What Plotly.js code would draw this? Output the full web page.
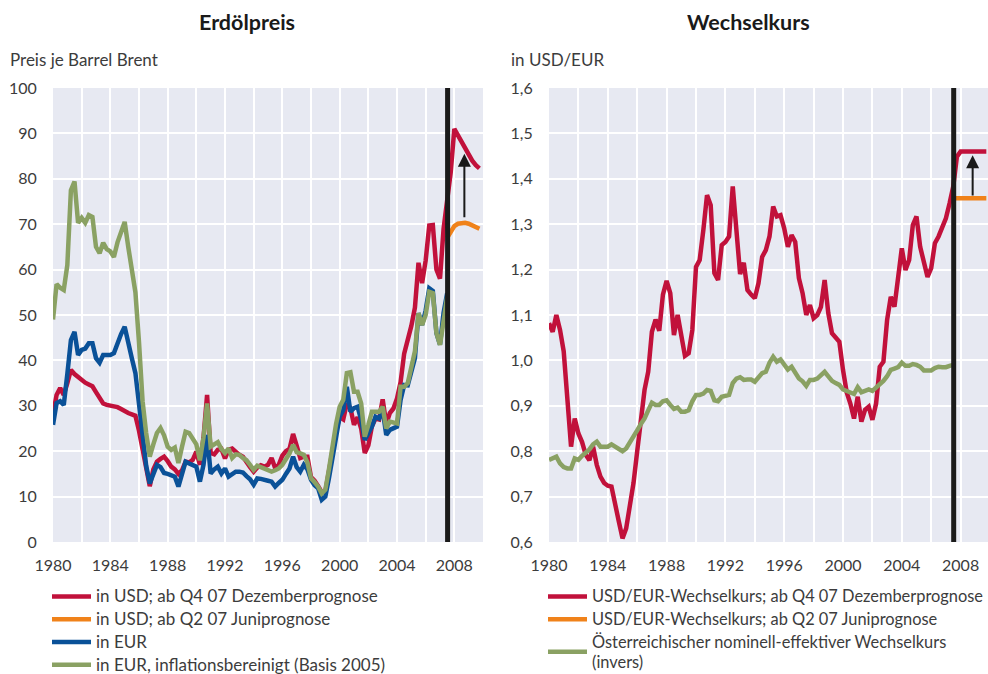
<!DOCTYPE html>
<html><head><meta charset="utf-8">
<script src="https://cdn.plot.ly/plotly-3.0.1.min.js"></script>
<style>html,body{margin:0;padding:0;background:#fff}#chart{width:988px;height:674px}</style>
</head><body><div id="chart"></div>
<script>
// quarterly positions (Q1 plotted at year.0)
function quarters(startYear, n){ const a=[]; for(let i=0;i<n;i++) a.push(startYear + i/4); return a; }
const xHist = quarters(1980, 111);      // 1980 Q1 .. 2007 Q3
const xAll = quarters(1980, 120);       // 1980 Q1 .. 2009 Q4
const xJune = quarters(2007.5, 10);     // forecast 2007 Q3 .. 2009 Q4

const tickYears = [1980,1984,1988,1992,1996,2000,2004,2008];
const forecastStart = 2007.53;

// Erdölpreis (USD / barrel Brent), incl. December forecast from Q4 07
const oilUSD = [28,32.4,33.9,32.4, 35,37.9,37,36.3, 35.8,35.1,34.7,34.3, 33,31.5,30.5,30.2,
 30,30,29.7,29.3, 28.8,28.4,28.1,27.8, 24.5,20,15.5,12.3, 16,17.7,18.3,18.8,
 17.8,16.6,16,15, 15.8,17.7,17.5,18.1, 19.9,17,23,32.4, 19.6,19.3,20.3,20.5,
 18.4,20.3,20.6,19.8, 19.2,18.8,17.5,16.5, 15.5,16.4,16.9,16.6, 17,18.5,16.3,17,
 19,20,20.5,23.8, 21.2,18.5,18.8,18.8, 14.3,13.5,12.3,11, 11.1,15.7,20.5,24.5,
 27.5,27,30.5,29.5, 25.8,27.5,25,19.6, 21.3,25.5,27.2,27, 31.4,26,28.4,29.4,
 31.6,35.2,41.5,44.2, 47.6,51.6,61.5,57, 62,69.7,69.8,60, 58,69,74.7,81.5,
 91,89.5,88,86.5, 85.2,84,83,82.3];
// USD, June forecast from Q2 07
const oilJune = [67,68.5,69.6,70.1,70.3,70.3,70.1,69.8,69.4,69.0];
// EUR
const oilEUR = [25.8,30.6,31,30.2, 37,44.5,46.3,41.2, 42.3,42.6,43.8,43.8, 40.5,39.5,41.2,41.2,
 41.2,41.6,44.1,45.8, 47.4,43.5,40.5,37.2, 30.5,23,16.8,12.9, 15,17,16.5,15.2,
 15,14.6,14.4,12.2, 15,17.7,17.3,17, 16.6,13.3,17,23.6, 15.1,16,16.6,15.1,
 16.2,14.4,15,15.5, 15.5,15.3,14.5,13.8, 12.6,14,13.9,13.8, 13.5,13.3,12.2,13,
 13.7,15,16.2,18.8, 16.5,15.5,17,16, 13.7,12.5,11.8,9.3, 10,14,18.8,23.5,
 27.6,29,34.2,28.7, 29.5,29.8,26.9,22.5, 24,25.4,27.6,27.2, 29.1,23.6,24.7,25,
 25.4,31.3,34.6,34.5, 37.9,40.5,50.4,47.8, 51,55.9,55.3,46, 43.5,50.5,54.8];
// EUR, inflation adjusted (base 2005)
const oilReal = [49,56.8,56,55.5, 61,77.5,79.4,70.3, 71.4,70.3,72,71.6, 65,63.6,65.9,64.5,
 64,62.8,66,68, 70.5,65,60,55, 44,31,24,18.8, 21.5,24,25.1,23.5,
 21,20.3,20.8,17.4, 21,24.3,24,22.5, 21.5,18,23,30.5, 21,21.5,22,20.5,
 19.6,20.6,18.5,19.3, 19.2,18.5,18,17, 15.9,16.8,16.5,16, 15.7,15.5,15.8,16.2,
 17,18.1,19.5,21.4, 19.8,19.5,19.2,17.5, 14,13.2,12.2,10.7, 11.5,16,21.7,26,
 29.8,31.3,37.2,37.4, 33.1,33.1,30.5,23.2, 25.8,28.7,28.7,28.7, 29.8,25,26.5,26.3,
 26.1,34.2,34.2,35, 38.6,42,50.4,47.8, 50,55.1,54.8,46, 43.4,49.3,54];

// Wechselkurs USD/EUR, incl. December forecast from Q4 07
const fxUSD = [1.082,1.063,1.1,1.067, 1.02,0.91,0.81,0.872, 0.839,0.82,0.792,0.78, 0.81,0.77,0.744,0.73,
 0.724,0.722,0.678,0.645, 0.608,0.63,0.68,0.73, 0.8,0.87,0.935,0.975, 1.063,1.09,1.065,1.145,
 1.175,1.148,1.056,1.1, 1.05,1.01,1.016,1.067, 1.206,1.221,1.287,1.364, 1.342,1.192,1.177,1.254,
 1.261,1.273,1.383,1.29, 1.19,1.215,1.155,1.145, 1.137,1.17,1.228,1.243, 1.273,1.339,1.317,1.32,
 1.291,1.25,1.276,1.261, 1.181,1.148,1.1,1.122, 1.093,1.1,1.118,1.177, 1.104,1.06,1.05,1.041,
 0.979,0.93,0.905,0.872, 0.92,0.865,0.891,0.898, 0.869,0.905,0.986,0.997, 1.089,1.14,1.118,1.184,
 1.247,1.199,1.221,1.298, 1.317,1.25,1.214,1.184, 1.203,1.258,1.273,1.291, 1.313,1.346,1.383,1.449,
 1.46,1.46,1.46,1.46, 1.46,1.46,1.46,1.46];
const fxJune = [1.357,1.357,1.357,1.357,1.357,1.357,1.357,1.357,1.357,1.357];
// Austrian nominal effective exchange rate (inverse)
const fxNEER = [0.781,0.785,0.788,0.773, 0.765,0.762,0.762,0.784, 0.781,0.79,0.797,0.804, 0.815,0.821,0.81,0.81,
 0.81,0.815,0.81,0.804, 0.8,0.806,0.818,0.83, 0.846,0.86,0.872,0.89, 0.907,0.902,0.902,0.91,
 0.912,0.902,0.893,0.896, 0.887,0.887,0.89,0.91, 0.924,0.924,0.927,0.935, 0.933,0.912,0.91,0.92,
 0.922,0.924,0.95,0.96, 0.963,0.957,0.958,0.958, 0.953,0.963,0.972,0.975, 0.995,1.008,0.997,1.002,
 0.99,0.98,0.986,0.972, 0.96,0.954,0.944,0.957, 0.957,0.96,0.968,0.975, 0.965,0.955,0.95,0.946,
 0.936,0.932,0.928,0.926, 0.941,0.93,0.933,0.936, 0.933,0.94,0.95,0.955, 0.965,0.979,0.982,0.985,
 0.995,0.988,0.988,0.992, 0.99,0.986,0.978,0.977, 0.978,0.983,0.986,0.985, 0.985,0.988,0.99];

const names1 = ['in USD; ab Q4 07 Dezemberprognose','in USD; ab Q2 07 Juniprognose','in EUR','in EUR, inflationsbereinigt (Basis 2005)'];
const names2 = ['USD/EUR-Wechselkurs; ab Q4 07 Dezemberprognose','USD/EUR-Wechselkurs; ab Q2 07 Juniprognose','Österreichischer nominell-effektiver Wechselkurs<br>(invers)'];

// legend label: larger glyphs inside a compact legend row
function big(s, px){ return s.split('<br>').map(p => '<span style="font-size:' + px + 'px">' + p + '</span>').join('<br>'); }

const RED='#C1113B', ORANGE='#F0821A', BLUE='#0A5198', GREEN='#8AA163', BLACK='#1A1A1A';
const LW = 4.5;

const traces = [
  {x:xAll, y:oilUSD, name:big(names1[0],17), line:{color:RED,width:LW}},
  {x:xJune, y:oilJune, name:big(names1[1],17), line:{color:ORANGE,width:LW}},
  {x:xHist, y:oilEUR, name:big(names1[2],17), line:{color:BLUE,width:LW}},
  {x:xHist, y:oilReal, name:big(names1[3],17), line:{color:GREEN,width:LW}},
  {x:xAll, y:fxUSD, name:big(names2[0],16.4), xaxis:'x2', yaxis:'y2', legend:'legend2', line:{color:RED,width:LW}},
  {x:xJune, y:fxJune, name:big(names2[1],16.4), xaxis:'x2', yaxis:'y2', legend:'legend2', line:{color:ORANGE,width:LW}},
  {x:xHist, y:fxNEER, name:big(names2[2],16.4), xaxis:'x2', yaxis:'y2', legend:'legend2', line:{color:GREEN,width:LW}}
].map(t => Object.assign({type:'scatter', mode:'lines', hoverinfo:'skip'}, t));

const W=988, H=674;
const yDom = [1-542/H, 1-88/H];
const gridW = 2;
function xAxis(domain, range, anchor){
  return {domain, range, anchor, tickmode:'array', tickvals:tickYears, ticktext:tickYears.map(String),
    showgrid:true, gridcolor:'#ffffff', gridwidth:gridW, zeroline:false, showline:false, automargin:false,
    ticks:'outside', ticklen:9, tickcolor:'rgba(0,0,0,0)',
    minor:{tickmode:'linear', tick0:1980, dtick:2, showgrid:true, gridcolor:'#ffffff', gridwidth:gridW, ticks:''},
    tickfont:{size:16, color:'#3c3c3c'}, fixedrange:true};
}
function yAxis(range, dtick, anchor, fmt){
  return {domain:yDom, range, anchor, tickmode:'linear', tick0:range[0], dtick, tickformat:fmt,
    showgrid:true, gridcolor:'#ffffff', gridwidth:gridW, zeroline:false, showline:false, automargin:false,
    ticks:'outside', ticklen:12, tickcolor:'rgba(0,0,0,0)', tickfont:{size:16, color:'#3c3c3c'}, fixedrange:true};
}

const arrowCommon = {showarrow:true, arrowhead:2, arrowsize:1.3, arrowwidth:2, arrowcolor:BLACK, text:'', standoff:0, startstandoff:0};
const legFont = {size:15.2, color:'#3c3c3c'};

const layout = {
  width:W, height:H, margin:{l:0,r:0,t:0,b:0,pad:0,autoexpand:false},
  paper_bgcolor:'#ffffff', plot_bgcolor:'#E7E9F2',
  font:{family:'Lato, "Open Sans", "DejaVu Sans", sans-serif', size:16, color:'#3c3c3c'},
  separators:',.',
  showlegend:true,
  xaxis: xAxis([53/W, 483/W], [1980, 2010], 'y'),
  yaxis: yAxis([0,100], 10, 'x', ''),
  xaxis2: xAxis([549/W, 1], [1980, 1980+(988-549)/14.7], 'y2'),
  yaxis2: yAxis([0.6,1.6], 0.1, 'x2', '.1f'),
  legend:{x:47/W, y:1-580/H, xanchor:'left', yanchor:'top', bgcolor:'rgba(0,0,0,0)', font:legFont, itemwidth:39, tracegroupgap:0, traceorder:'normal'},
  legend2:{x:543/W, y:1-580/H, xanchor:'left', yanchor:'top', bgcolor:'rgba(0,0,0,0)', font:legFont, itemwidth:39, tracegroupgap:0, traceorder:'normal'},
  shapes:[
    {type:'line', xref:'x', yref:'y domain', x0:forecastStart, x1:forecastStart, y0:0, y1:1, line:{color:BLACK, width:5}, layer:'above'},
    {type:'line', xref:'x2', yref:'y2 domain', x0:forecastStart, x1:forecastStart, y0:0, y1:1, line:{color:BLACK, width:5}, layer:'above'}
  ],
  annotations:[
    Object.assign({xref:'x', yref:'y', axref:'x', ayref:'y', x:2008.7, y:85.5, ax:2008.7, ay:71.2}, arrowCommon),
    Object.assign({xref:'x2', yref:'y2', axref:'x2', ayref:'y2', x:2008.82, y:1.452, ax:2008.82, ay:1.36}, arrowCommon),
    {xref:'paper', yref:'paper', x:247/W, y:1-22/H, xanchor:'center', yanchor:'middle', showarrow:false, text:'<b>Erdölpreis</b>', font:{size:21.5, color:'#1a1a1a'}},
    {xref:'paper', yref:'paper', x:748/W, y:1-22/H, xanchor:'center', yanchor:'middle', showarrow:false, text:'<b>Wechselkurs</b>', font:{size:21.5, color:'#1a1a1a'}},
    {xref:'paper', yref:'paper', x:8/W, y:1-60/H, xanchor:'left', yanchor:'middle', showarrow:false, text:'Preis je Barrel Brent', font:{size:17, color:'#3c3c3c'}},
    {xref:'paper', yref:'paper', x:509/W, y:1-60/H, xanchor:'left', yanchor:'middle', showarrow:false, text:'in USD/EUR', font:{size:17, color:'#3c3c3c'}}
  ]
};

Plotly.newPlot('chart', traces, layout, {displayModeBar:false, staticPlot:true});
</script></body></html>
